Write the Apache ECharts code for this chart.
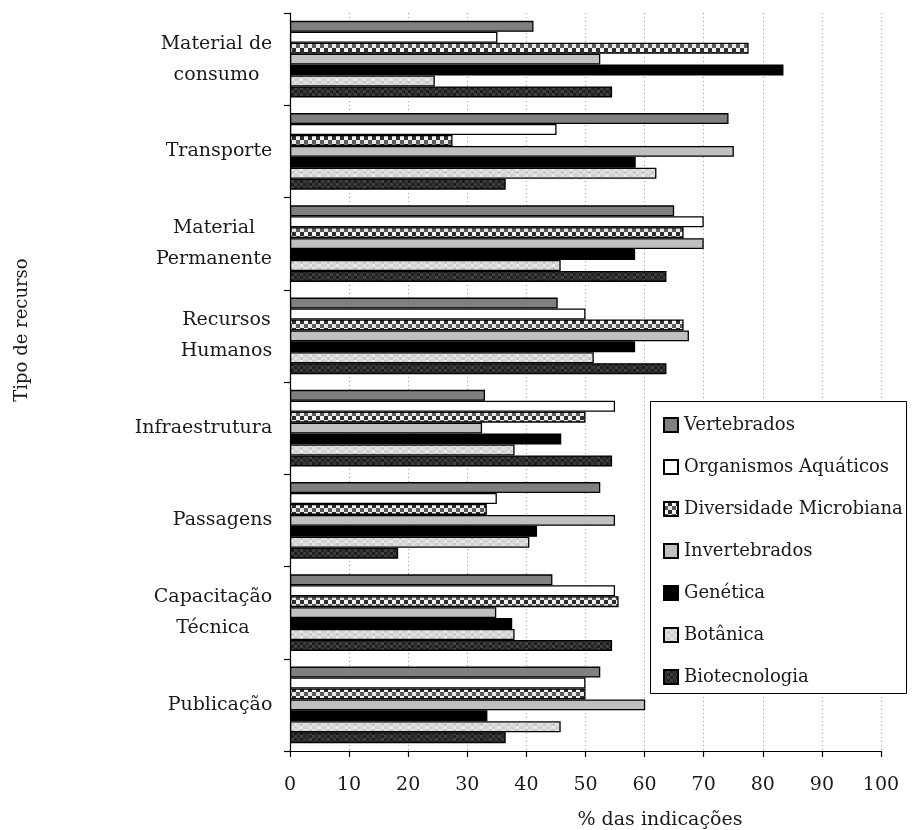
<!DOCTYPE html>
<html>
<head>
<meta charset="utf-8">
<script src="https://cdn.jsdelivr.net/npm/echarts@6/dist/echarts.min.js"></script>
<style>html,body{margin:0;padding:0;background:#fff;}#c{width:913px;height:830px;}</style>
</head>
<body>
<div id="c"></div>
<script>
const categories = ['Material de\nconsumo', 'Transporte', 'Material\nPermanente', 'Recursos\nHumanos', 'Infraestrutura', 'Passagens', 'Capacitação\nTécnica', 'Publicação'];
const seriesNames = ['Vertebrados', 'Organismos Aquáticos', 'Diversidade Microbiana', 'Invertebrados', 'Genética', 'Botânica', 'Biotecnologia'];
const vertebrados = [41.2, 74.2, 65.0, 45.3, 33.0, 52.5, 44.4, 52.5];
const organismosAquaticos = [35.1, 45.1, 70.0, 50.0, 55.0, 35.0, 55.0, 50.0];
const diversidadeMicrobiana = [77.6, 27.5, 66.6, 66.6, 50.0, 33.3, 55.6, 50.0];
const invertebrados = [52.5, 75.1, 70.0, 67.5, 32.5, 55.0, 34.9, 60.1];
const genetica = [83.5, 58.5, 58.4, 58.4, 45.9, 41.8, 37.6, 33.4];
const botanica = [24.5, 62.0, 45.8, 51.4, 38.0, 40.5, 38.0, 45.8];
const biotecnologia = [54.5, 36.5, 63.7, 63.7, 54.5, 18.3, 54.5, 36.5];
const xTicks = [0, 10, 20, 30, 40, 50, 60, 70, 80, 90, 100];
const seriesData = [vertebrados, organismosAquaticos, diversidadeMicrobiana, invertebrados, genetica, botanica, biotecnologia];

const FONT = 'DejaVu Serif';

function makePattern(cell, grid) {
  const c = document.createElement('canvas');
  const rows = grid.length, cols = grid[0].length;
  c.width = cols * cell; c.height = rows * cell;
  const ctx = c.getContext('2d');
  for (let r = 0; r < rows; r++) for (let k = 0; k < cols; k++) {
    ctx.fillStyle = grid[r][k];
    ctx.fillRect(k * cell, r * cell, cell, cell);
  }
  return { image: c, repeat: 'repeat' };
}
const checker = makePattern(4, [['#f2f2f2', '#2e2e2e'], ['#5a5a5a', '#e6e6e6']]);
const botPat = makePattern(3, [
  ['#d4d4d4', '#e6e6e6', '#cfcfcf', '#dadada', '#ececec', '#d0d0d0'],
  ['#dcdcdc', '#cacaca', '#e2e2e2', '#d6d6d6', '#c8c8c8', '#e0e0e0']
]);
const bioPat = makePattern(3, [
  ['#2a2a2a', '#444444', '#202020', '#383838', '#1c1c1c', '#3a3a3a'],
  ['#343434', '#1e1e1e', '#3e3e3e', '#262626', '#404040', '#222222']
]);
const fills = ['#808080', '#ffffff', checker, '#c0c0c0', '#000000', botPat, bioPat];

// per-label rich styles so lines are centered within a right-aligned block
const mctx = document.createElement('canvas').getContext('2d');
mctx.font = '19px "' + FONT + '"';
const rich = {};
categories.forEach((cat, i) => {
  const w = Math.max(...cat.split('\n').map(s => mctx.measureText(s).width));
  rich['c' + i] = { width: Math.ceil(w) + 1, align: 'center', fontFamily: FONT, fontSize: 19, color: '#1a1a1a', lineHeight: 31 };
});

const chart = echarts.init(document.getElementById('c'));
chart.setOption({
  backgroundColor: '#fff',
  animation: false,
  grid: { left: 290, right: 32, top: 13, bottom: 79 },
  xAxis: {
    type: 'value', min: 0, max: 100, interval: 10,
    axisLine: { show: true, lineStyle: { color: '#000', width: 1.2 } },
    axisTick: { show: true, length: 6, lineStyle: { color: '#000', width: 1.2 } },
    axisLabel: { margin: 25, fontFamily: FONT, fontSize: 19, color: '#1a1a1a', formatter: v => xTicks.includes(v) ? String(v) : '' },
    splitLine: { show: true, lineStyle: { color: '#999', type: [1, 3], width: 1 } }
  },
  yAxis: {
    type: 'category', data: categories, inverse: true,
    axisLine: { show: true, lineStyle: { color: '#000', width: 1.2 } },
    axisTick: { show: true, length: 6, lineStyle: { color: '#000', width: 1.2 } },
    axisLabel: {
      margin: 17, align: 'right',
      formatter: (v, i) => v.split('\n').map(s => '{c' + i + '|' + s + '}').join('\n'),
      rich: rich
    }
  },
  legend: {
    orient: 'vertical', left: 663, top: 416,
    itemWidth: 14, itemHeight: 14, itemGap: 24, padding: 0,
    textStyle: { fontFamily: FONT, fontSize: 18, color: '#1a1a1a', lineHeight: 18, padding: [0, 0, 0, 1] },
    data: seriesNames.map(n => ({ name: n, icon: 'rect' }))
  },
  graphic: [
    { type: 'rect', z: 3, shape: { x: 650.5, y: 401.5, width: 256, height: 292 }, style: { fill: '#fff', stroke: '#000', lineWidth: 1 } },
    { type: 'text', z: 3, x: 22, y: 330, rotation: Math.PI / 2, style: { text: 'Tipo de recurso', font: '18px "' + FONT + '"', fill: '#1a1a1a', textAlign: 'center', textVerticalAlign: 'middle' } },
    { type: 'text', z: 3, x: 660, y: 820, style: { text: '% das indicações', font: '19px "' + FONT + '"', fill: '#1a1a1a', textAlign: 'center', textVerticalAlign: 'middle' } }
  ],
  series: seriesNames.map((n, i) => ({
    name: n, type: 'bar', data: seriesData[i],
    barGap: '0%', barCategoryGap: '17%',
    itemStyle: { color: fills[i], borderColor: '#000', borderWidth: 1.3 },
    emphasis: { disabled: true }
  }))
});
</script>
</body>
</html>
